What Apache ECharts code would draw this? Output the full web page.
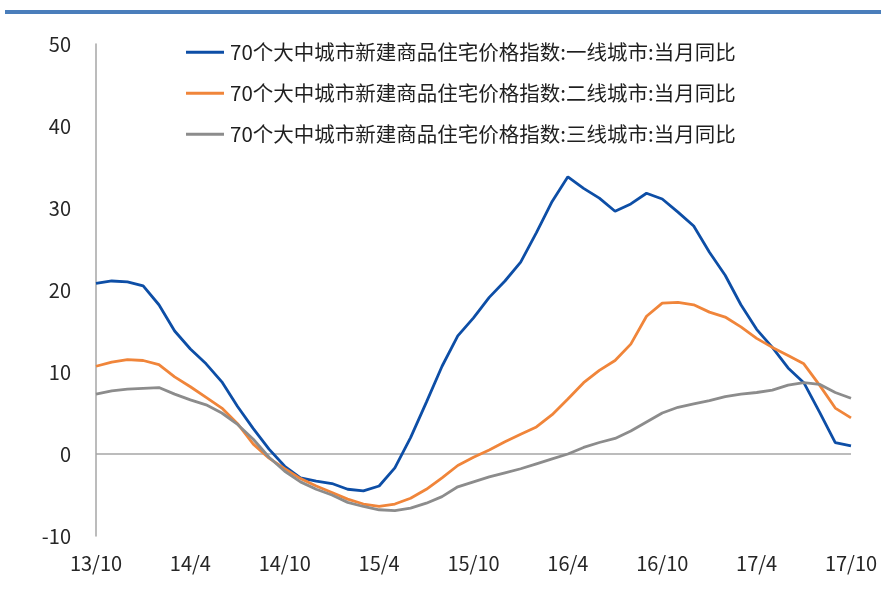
<!DOCTYPE html>
<html>
<head>
<meta charset="utf-8">
<style>
  html, body { margin: 0; padding: 0; background: #ffffff; }
  #chart { width: 881px; height: 592px; }
</style>
<script src="https://cdn.jsdelivr.net/npm/echarts@6/dist/echarts.min.js"></script>
</head>
<body>
<div id="chart"></div>
<script>
// Monthly categories, 2013/10 – 2017/10
const months = [
  '13/10','13/11','13/12','14/1','14/2','14/3','14/4','14/5','14/6','14/7','14/8','14/9',
  '14/10','14/11','14/12','15/1','15/2','15/3','15/4','15/5','15/6','15/7','15/8','15/9',
  '15/10','15/11','15/12','16/1','16/2','16/3','16/4','16/5','16/6','16/7','16/8','16/9',
  '16/10','16/11','16/12','17/1','17/2','17/3','17/4','17/5','17/6','17/7','17/8','17/9',
  '17/10'
];

// Year-on-year change (%) of new commercial housing price index, 70 large & medium cities
const tier1 = [
  20.8, 21.1, 21.0, 20.5, 18.2, 15.0, 12.8, 11.0, 8.8, 5.8, 3.1, 0.6,
  -1.5, -2.9, -3.3, -3.6, -4.3, -4.5, -3.9, -1.7, 2.0, 6.3, 10.7, 14.4,
  16.6, 19.1, 21.1, 23.4, 27.0, 30.8, 33.8, 32.4, 31.2, 29.6, 30.5, 31.8,
  31.1, 29.5, 27.8, 24.6, 21.8, 18.2, 15.2, 13.0, 10.5, 8.7, 5.1, 1.4,
  1.0
];
const tier2 = [
  10.7, 11.2, 11.5, 11.4, 10.9, 9.4, 8.2, 6.9, 5.6, 3.7, 1.2, -0.5,
  -1.8, -3.0, -3.9, -4.7, -5.5, -6.1, -6.4, -6.1, -5.4, -4.3, -2.9, -1.4,
  -0.4, 0.5, 1.5, 2.4, 3.3, 4.8, 6.7, 8.7, 10.2, 11.4, 13.4, 16.8,
  18.4, 18.5, 18.2, 17.3, 16.7, 15.5, 14.1, 13.0, 12.0, 11.0, 8.4, 5.6,
  4.4
];
const tier3 = [
  7.3, 7.7, 7.9, 8.0, 8.1, 7.3, 6.6, 6.0, 5.0, 3.6, 1.8, -0.4,
  -2.1, -3.4, -4.3, -5.0, -5.9, -6.4, -6.8, -6.9, -6.6, -6.0, -5.2, -4.0,
  -3.4, -2.8, -2.3, -1.8, -1.2, -0.6, 0.0, 0.8, 1.4, 1.9, 2.8, 3.9,
  5.0, 5.7, 6.1, 6.5, 7.0, 7.3, 7.5, 7.8, 8.4, 8.7, 8.5, 7.5,
  6.8
];

const seriesNames = [
  '70个大中城市新建商品住宅价格指数:一线城市:当月同比',
  '70个大中城市新建商品住宅价格指数:二线城市:当月同比',
  '70个大中城市新建商品住宅价格指数:三线城市:当月同比'
];
const colors = ['#0d4ea6', '#f0853a', '#8c8c8c'];

const yTicks = { min: -10, max: 50, interval: 10 };

const font = "'Noto Sans CJK SC', 'Noto Sans', sans-serif";

const chart = echarts.init(document.getElementById('chart'));

function lineSeries(name, data, color, withZero) {
  const s = {
    name: name,
    type: 'line',
    data: data,
    showSymbol: false,
    symbol: 'none',
    smooth: false,
    lineStyle: { width: 2.8, color: color },
    itemStyle: { color: color },
    emphasis: { disabled: true },
    z: 3
  };
  if (withZero) {
    s.markLine = {
      silent: true,
      symbol: 'none',
      label: { show: false },
      lineStyle: { color: '#a6a6a6', width: 1.5, type: 'solid' },
      data: [{ yAxis: 0 }],
      z: 1
    };
  }
  return s;
}

chart.setOption({
  animation: false,
  backgroundColor: '#ffffff',
  graphic: [
    {
      type: 'rect',
      left: 5,
      top: 10,
      shape: { width: 876, height: 4 },
      style: { fill: '#4a7ebb' },
      silent: true
    }
  ],
  grid: { left: 96, right: 30, top: 44, bottom: 56 },
  legend: {
    orient: 'vertical',
    left: 181,
    top: 37,
    icon: 'rect',
    itemWidth: 38,
    itemHeight: 3,
    itemGap: 20.5,
    textStyle: {
      fontFamily: font,
      fontSize: 20.5,
      lineHeight: 20,
      color: '#1f1f1f',
      padding: [0, 0, 0, 1]
    },
    data: seriesNames
  },
  xAxis: {
    type: 'category',
    data: months,
    boundaryGap: false,
    axisLine: { show: false, onZero: false },
    axisTick: { show: false },
    splitLine: { show: false },
    axisLabel: {
      interval: 5,
      margin: 17,
      fontFamily: font,
      fontSize: 20,
      color: '#262626'
    }
  },
  yAxis: {
    type: 'value',
    min: yTicks.min,
    max: yTicks.max,
    interval: yTicks.interval,
    axisLine: { show: true, lineStyle: { color: '#a6a6a6', width: 1.5 } },
    axisTick: { show: false },
    splitLine: { show: false },
    axisLabel: {
      margin: 25,
      fontFamily: font,
      fontSize: 20,
      color: '#262626'
    }
  },
  series: [
    lineSeries(seriesNames[0], tier1, colors[0], true),
    lineSeries(seriesNames[1], tier2, colors[1], false),
    lineSeries(seriesNames[2], tier3, colors[2], false)
  ]
});
</script>
</body>
</html>
